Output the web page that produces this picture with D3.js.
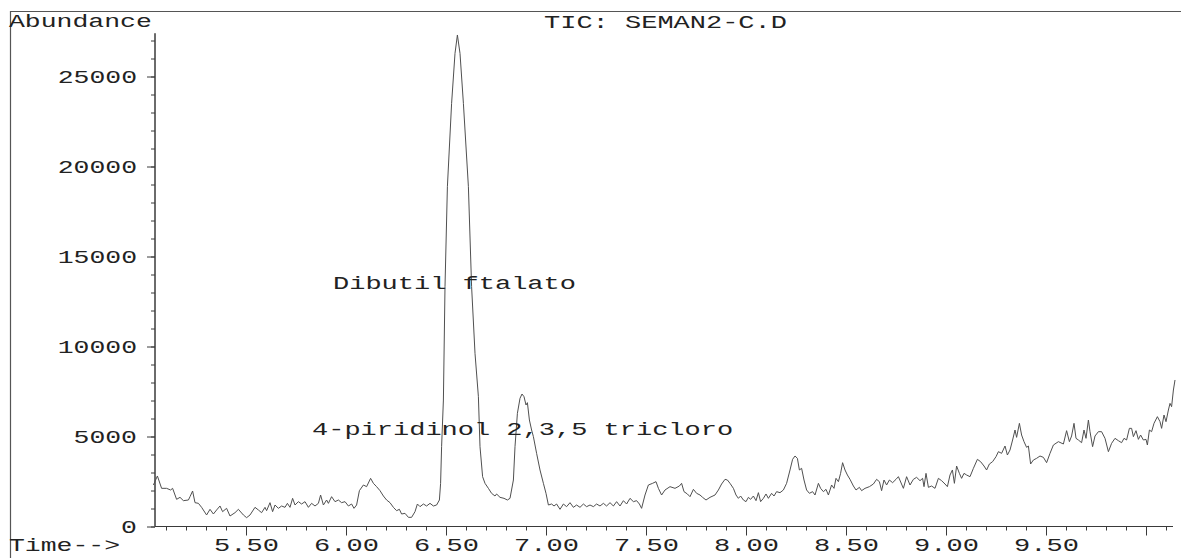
<!DOCTYPE html>
<html>
<head>
<meta charset="utf-8">
<script src="https://cdn.jsdelivr.net/npm/d3@7"></script>
<style>
  html, body { margin: 0; padding: 0; background: #fff; }
  svg { display: block; }
  text { font-family: "Liberation Mono", "Courier New", monospace; fill: #222; }
</style>
</head>
<body>
<svg id="chart" width="1181" height="558"></svg>
<script>
// ---- data ----
const retentionTime = [
  5.037,5.057,5.078,5.103,5.123,5.133,5.153,5.170,5.187,5.212,5.220,5.233,5.245,5.262,5.278,5.303,5.320,5.337,5.353,5.370,
  5.383,5.403,5.420,5.445,5.462,5.487,5.503,5.520,5.545,5.562,5.578,5.595,5.603,5.620,5.633,5.645,5.662,5.678,5.695,5.707,
  5.720,5.733,5.745,5.762,5.778,5.795,5.812,5.828,5.845,5.862,5.873,5.887,5.903,5.912,5.928,5.945,5.962,5.978,5.995,6.012,
  6.028,6.040,6.053,6.067,6.087,6.103,6.123,6.137,6.153,6.170,6.187,6.203,6.220,6.237,6.253,6.267,6.278,6.295,6.312,
  6.328,6.345,6.357,6.370,6.387,6.403,6.420,6.437,6.453,6.467,6.473,6.478,
  6.487,6.495,6.507,6.528,6.545,6.557,6.570,6.587,6.612,6.628,6.645,6.662,
  6.670,6.683,6.695,6.712,6.728,6.745,6.753,6.770,6.790,6.807,6.820,6.837,6.845,6.857,6.870,6.880,6.890,6.900,6.907,6.917,
  6.928,6.937,6.953,6.970,6.987,7.000,7.012,7.028,7.040,7.053,7.070,7.087,7.103,7.120,7.137,7.153,7.170,7.187,7.203,7.220,
  7.237,7.253,7.270,7.287,7.303,7.320,7.337,7.353,7.370,7.387,7.403,7.420,7.437,7.453,7.467,7.478,7.495,7.512,
  7.533,7.550,7.562,7.578,7.595,7.620,7.645,7.667,7.678,7.690,7.707,7.720,7.737,7.753,7.770,7.783,7.800,7.820,7.845,7.862,
  7.878,7.895,7.907,7.920,7.937,7.950,7.962,7.973,7.987,8.000,8.012,8.023,8.037,8.050,8.062,8.073,8.087,8.100,8.112,8.128,
  8.140,8.153,8.170,8.187,8.203,8.220,8.233,8.245,8.257,8.267,8.278,8.290,8.303,8.317,8.333,8.345,8.362,8.373,8.387,8.400,
  8.412,8.428,8.440,8.450,8.462,8.473,8.483,8.495,8.507,8.520,8.537,8.550,8.567,8.578,8.595,8.617,8.637,8.653,8.667,8.678,
  8.690,8.703,8.717,8.733,8.750,8.762,
  8.787,8.803,8.820,8.837,8.853,8.870,8.883,8.890,8.900,8.912,8.928,8.945,8.962,8.978,8.995,9.007,9.020,9.032,9.042,9.053,
  9.067,9.078,9.090,9.103,9.120,9.137,9.157,9.173,9.190,9.203,9.217,9.233,9.250,9.262,9.278,9.295,9.307,9.320,9.333,9.345,
  9.353,9.367,9.378,9.390,9.403,9.412,9.423,9.437,9.453,9.470,9.487,9.503,9.520,9.537,9.562,9.587,9.603,9.617,9.628,9.640,
  9.650,9.662,9.678,9.690,9.700,9.712,9.720,9.733,9.745,9.762,9.778,9.795,9.812,9.828,9.845,9.862,9.878,9.890,9.903,9.917,
  9.928,9.937,9.950,9.962,9.973,9.987,10.000,10.007,10.017,10.028,10.040,10.057,10.070,10.078,10.090,10.100,10.112,10.120,10.128,10.137,
  10.145
];
const abundance = [
  2306,2806,2120,2120,2028,2120,1509,1620,1435,1472,1657,1972,1324,1287,1065,639,954,694,917,1139,
  824,1009,583,768,954,639,491,639,1065,917,768,1065,880,1324,824,1194,1009,1139,1065,1287,
  1065,1565,1194,1380,1250,1380,1065,1287,1139,1287,1750,1194,1472,1287,1657,1380,1472,1324,1380,1139,
  1250,1009,1194,1991,2306,2213,2676,2398,2213,1991,1694,1472,1324,1065,880,954,694,731,509,
  509,824,1250,1102,1250,1139,1287,1139,1194,1472,2398,4435,
  7026,13324,18879,23509,26287,27306,26287,23509,18879,13324,9620,7211,
  4435,2769,2398,2120,1842,1694,1806,1620,1565,1472,1565,2583,4435,6287,7121,7361,7213,6750,6880,5917,
  5361,4991,4065,3139,2398,1842,1194,1250,1139,1250,954,1250,1102,1324,1065,1194,1065,1250,1102,1194,
  1102,1250,1139,1287,1139,1324,1139,1380,1139,1435,1250,1565,1380,1435,1250,1009,1750,2306,
  2398,2491,2120,1750,2028,2213,2120,2250,2398,1935,1806,1657,2065,1843,1750,1620,1472,1620,1750,2028,
  2361,2620,2583,2398,2120,1750,1565,1694,1472,1380,1620,1509,1694,1435,1880,1380,1565,1806,1565,1843,
  1694,1935,1880,2028,2398,3139,3732,3917,3787,3139,3232,2583,2028,1843,1935,1750,2398,2120,1935,2065,
  1750,2306,2120,2676,2491,2954,3546,3139,2861,2620,2250,2028,2176,1991,2120,2213,2361,2620,2491,1991,
  2583,2306,2583,2435,2620,2769,
  2120,2768,2305,2620,2731,2546,2676,2213,2953,2176,2250,2120,2676,2546,2361,2213,2861,3139,2398,3361,
  2953,2676,2953,2861,2768,3231,3731,3602,3361,3139,3472,3602,3879,4157,4065,4472,3972,4250,4805,5361,
  4953,5731,5083,4713,4398,4472,3472,3694,3787,3916,3842,3546,4065,4527,4713,4583,5324,4713,5028,5731,
  4898,4805,4657,5361,4898,5916,5268,4435,5028,5268,5268,4898,4157,4620,4898,4768,4657,4898,4805,5453,
  5453,4990,5324,4842,5083,4805,4842,4527,5361,5268,5731,6102,5824,5453,6194,5824,6472,6842,6657,7583,
  8139
];
const yMajorTicks = [0, 5000, 10000, 15000, 20000, 25000];
const yMinorTicks = d3.range(0, 27001, 1000);
const xMajorTicks = [5.5, 6.0, 6.5, 7.0, 7.5, 8.0, 8.5, 9.0, 9.5, 10.0];
const xTickLabels = ["5.50", "6.00", "6.50", "7.00", "7.50", "8.00", "8.50", "9.00", "9.50", ""];
const xMinorTicks = d3.range(51, 102).map(d => d / 10);
const annotations = [
  { text: "Dibutil ftalato", t: 5.935, v: 13200 },
  { text: "4-piridinol 2,3,5 tricloro", t: 5.83, v: 5080 }
];
const titleText = "TIC: SEMAN2-C.D";
const yTitle = "Abundance";
const xTitle = "Time-->";

// ---- drawing ----
const svg = d3.select("#chart");
const SX = 1.47;  // horizontal stretch of the plotter font (axis text)
const SXT = 1.5;  // stretch for title and annotations
const ink = "#3a3a3a";

const x = d3.scaleLinear().domain([5.045, 10.135]).range([155, 1173]);
const y = d3.scaleLinear().domain([0, 27400]).range([526.5, 33.3]);

function stretchedText(sel, str, px, py, anchor, size, sx) {
  return sel.append("text")
    .attr("transform", `translate(${px},${py}) scale(${sx},1)`)
    .attr("text-anchor", anchor)
    .style("font-size", size + "px")
    .text(str);
}

// frame lines
svg.append("line").attr("x1", 10).attr("x2", 1181).attr("y1", 11.5).attr("y2", 11.5)
  .attr("stroke", "#555").attr("stroke-width", 1.2);
svg.append("line").attr("x1", 10.5).attr("x2", 10.5).attr("y1", 11).attr("y2", 558)
  .attr("stroke", "#555").attr("stroke-width", 1.2);

// y axis
const yMinor = svg.append("g").attr("transform", "translate(155,0)")
  .call(d3.axisLeft(y).tickValues(yMinorTicks).tickSize(4).tickFormat(""));
const yMajor = svg.append("g").attr("transform", "translate(155,0)")
  .call(d3.axisLeft(y).tickValues(yMajorTicks).tickSize(8).tickFormat(d => String(d)));
[yMinor, yMajor].forEach(g => {
  g.selectAll(".domain").attr("stroke", ink).attr("d", `M0,${y(0)}V${y.range()[1]}`);
  g.selectAll(".tick line").attr("stroke", ink);
});
yMajor.selectAll(".tick text")
  .attr("x", null).attr("dy", null)
  .attr("transform", `translate(-18,6) scale(${SX},1)`)
  .style("font-size", "18px").attr("fill", "#222");

// x axis
const xMinor = svg.append("g").attr("transform", `translate(0,${y(0)})`)
  .call(d3.axisBottom(x).tickValues(xMinorTicks).tickSize(4).tickFormat(""));
const xMajor = svg.append("g").attr("transform", `translate(0,${y(0)})`)
  .call(d3.axisBottom(x).tickValues(xMajorTicks).tickSize(9)
    .tickFormat((d, i) => xTickLabels[i]));
[xMinor, xMajor].forEach(g => {
  g.selectAll(".domain").attr("stroke", ink).attr("d", `M${x.range()[0]},0H${x.range()[1]}`);
  g.selectAll(".tick line").attr("stroke", ink);
});
xMajor.selectAll(".tick text")
  .attr("y", null).attr("dy", null)
  .attr("transform", `translate(0,24.5) scale(1.5,1)`)
  .style("font-size", "18px").attr("fill", "#222");

// titles
stretchedText(svg, yTitle, 9, 27, "start", 18, SX);
stretchedText(svg, titleText, 544, 28, "start", 18, SXT);
stretchedText(svg, xTitle, 9, 551, "start", 18, SX);

// trace
const pts = retentionTime.map((t, i) => [t, abundance[i]]);
svg.append("path")
  .datum(pts)
  .attr("fill", "none")
  .attr("stroke", "#505050")
  .attr("stroke-width", 1)
  .attr("stroke-linejoin", "round")
  .attr("d", d3.line().x(d => x(d[0])).y(d => y(d[1])));

// annotations
annotations.forEach(a => {
  stretchedText(svg, a.text, x(a.t), y(a.v), "start", 18, SXT);
});
</script>
</body>
</html>
